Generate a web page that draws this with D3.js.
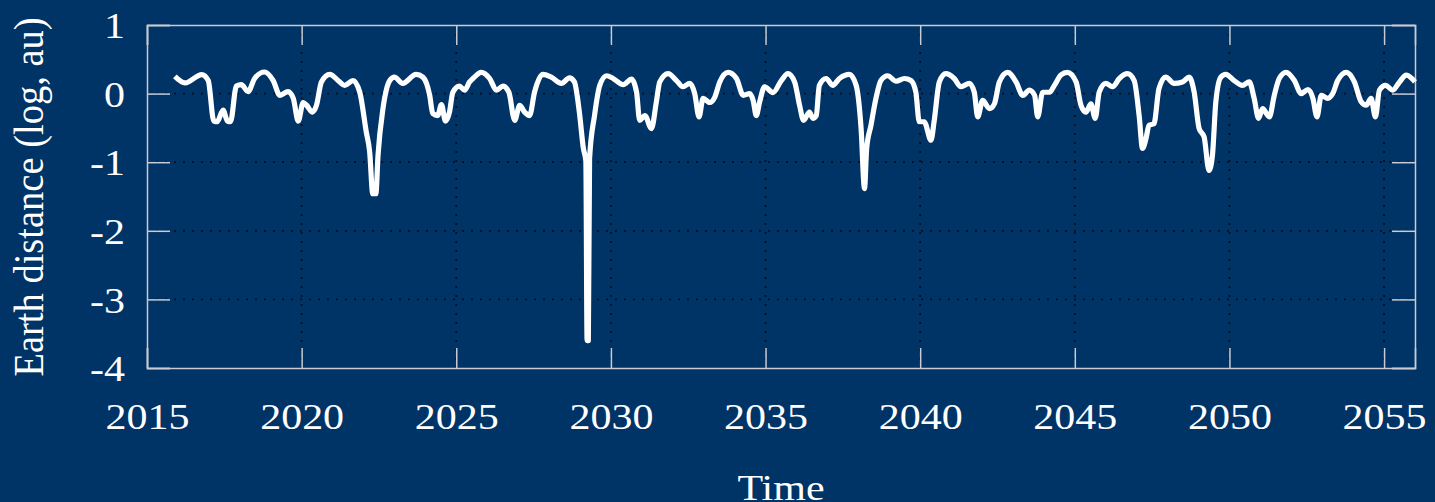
<!DOCTYPE html>
<html><head><meta charset="utf-8">
<script src="https://cdn.jsdelivr.net/npm/d3@7"></script>
<style>html,body{margin:0;padding:0;background:#003366;overflow:hidden}</style>
</head><body>
<svg id="c" width="1435" height="502"></svg>
<script>
const years = [2015.9,2016.23,2016.77,2016.98,2017.16,2017.27,2017.46,2017.6,2017.7,2017.89,2018.05,2018.27,2018.48,2018.8,2019.08,2019.3,2019.56,2019.73,2019.89,2020.05,2020.16,2020.35,2020.48,2020.64,2020.91,2021.23,2021.39,2021.66,2021.88,2022.09,2022.2,2022.3,2022.4,2022.47,2022.63,2022.85,2023.0,2023.27,2023.7,2023.92,2024.14,2024.24,2024.4,2024.52,2024.65,2024.78,2024.89,2025.1,2025.27,2025.43,2025.54,2025.81,2026.08,2026.3,2026.51,2026.7,2026.89,2027.05,2027.21,2027.37,2027.53,2027.8,2028.07,2028.4,2028.66,2028.82,2028.98,2029.11,2029.19,2029.23,2029.27,2029.31,2029.47,2029.64,2029.86,2030.07,2030.4,2030.67,2030.83,2030.93,2031.1,2031.31,2031.47,2031.58,2031.85,2032.12,2032.33,2032.55,2032.71,2032.85,2032.98,2033.2,2033.36,2033.52,2033.79,2034.06,2034.28,2034.49,2034.6,2034.7,2034.81,2034.97,2035.24,2035.51,2035.72,2035.94,2036.1,2036.23,2036.42,2036.53,2036.64,2036.74,2036.96,2037.17,2037.39,2037.71,2037.93,2038.09,2038.2,2038.27,2038.41,2038.57,2038.73,2038.95,2039.22,2039.49,2039.7,2039.86,2039.97,2040.13,2040.35,2040.45,2040.62,2040.83,2041.1,2041.32,2041.59,2041.75,2041.86,2042.02,2042.24,2042.4,2042.56,2042.83,2043.1,2043.32,2043.53,2043.7,2043.8,2043.96,2044.18,2044.34,2044.55,2044.76,2045.04,2045.2,2045.36,2045.52,2045.66,2045.79,2046.0,2046.22,2046.44,2046.7,2046.92,2047.08,2047.19,2047.3,2047.4,2047.56,2047.72,2047.94,2048.21,2048.48,2048.7,2048.86,2049.02,2049.18,2049.34,2049.45,2049.56,2049.72,2049.88,2050.15,2050.42,2050.64,2050.8,2050.94,2051.07,2051.29,2051.45,2051.61,2051.83,2052.1,2052.32,2052.54,2052.7,2052.83,2052.97,2053.18,2053.34,2053.5,2053.78,2054.04,2054.26,2054.42,2054.58,2054.72,2054.85,2055.05,2055.28,2055.5,2055.72,2056.0];
const logDist = [0.25,0.155,0.277,0.19,-0.40,-0.41,-0.24,-0.40,-0.41,0.11,0.13,0.03,0.22,0.315,0.19,-0.025,0.03,-0.07,-0.40,-0.13,-0.17,-0.27,-0.17,0.17,0.28,0.17,0.12,0.19,0.02,-0.56,-0.85,-1.46,-1.46,-0.9,-0.22,0.19,0.24,0.15,0.28,0.24,-0.025,-0.29,-0.32,-0.16,-0.40,-0.27,0.02,0.11,0.05,0.17,0.22,0.31,0.22,0.05,0.11,0.02,-0.39,-0.17,-0.27,-0.32,0.02,0.28,0.24,0.15,0.23,0.17,-0.27,-0.80,-0.98,-3.6,-3.6,-0.95,-0.32,0.12,0.26,0.22,0.13,0.21,0.02,-0.39,-0.32,-0.51,-0.12,0.17,0.29,0.19,0.10,0.15,0.0,-0.34,-0.07,-0.13,-0.05,0.17,0.31,0.22,-0.025,0.0,-0.1,-0.32,-0.12,0.10,0.015,0.19,0.29,0.17,-0.17,-0.39,-0.27,-0.36,-0.32,0.12,0.22,0.12,0.22,0.28,0.12,-0.51,-1.385,-0.80,-0.46,-0.07,0.19,0.26,0.18,0.22,0.19,0.02,-0.41,-0.41,-0.68,-0.41,0.17,0.29,0.22,0.10,0.15,0.02,-0.34,-0.1,-0.22,-0.15,0.17,0.31,0.17,-0.025,0.05,-0.025,-0.34,0.02,0.02,0.12,0.27,0.31,0.17,-0.17,-0.27,-0.15,-0.36,0.02,0.15,0.10,0.22,0.29,0.19,-0.32,-0.80,-0.66,-0.46,-0.44,0.07,0.24,0.15,0.17,0.24,0.02,-0.51,-0.63,-1.12,-0.9,-0.12,0.24,0.28,0.19,0.12,0.17,-0.07,-0.36,-0.22,-0.34,-0.025,0.22,0.31,0.19,0.0,0.06,-0.07,-0.34,-0.025,-0.07,0.0,0.19,0.31,0.17,-0.12,-0.17,-0.07,-0.34,0.05,0.12,0.05,0.17,0.27,0.17];
const xTicks = [2015,2020,2025,2030,2035,2040,2045,2050,2055];
const yTicks = [1,0,-1,-2,-3,-4];
const xLabel = "Time";
const yLabel = "Earth distance (log, au)";

const L = 147, R = 1415, T = 25, B = 368;
const SX = 1.2; // horizontal stretch of the reference's lettering
const svg = d3.select("#c");
svg.append("rect").attr("width",1435).attr("height",502).attr("fill","#003366");
const x = d3.scaleLinear().domain([2015,2056]).range([L,R]);
const y = d3.scaleLinear().domain([-4,1]).range([B,T]);
const frameCol = "#c9ccd2";

// grid
const g = svg.append("g");
g.selectAll("line.gx").data(xTicks.filter(d=>d>2015)).join("line")
  .attr("x1",d=>x(d)).attr("x2",d=>x(d)).attr("y1",T).attr("y2",B)
  .attr("stroke","#0a0f1a").attr("stroke-width",1.8).attr("stroke-dasharray","2,7");
g.selectAll("line.gy").data(yTicks.filter(d=>d<1&&d>-4)).join("line")
  .attr("x1",L).attr("x2",R).attr("y1",d=>y(d)).attr("y2",d=>y(d))
  .attr("stroke","#0a0f1a").attr("stroke-width",1.8).attr("stroke-dasharray","2,7");

// axes with inward ticks
const fnt = "'Liberation Serif','Times New Roman',serif";
const axB = svg.append("g").attr("transform",`translate(0,${B})`)
  .call(d3.axisBottom(x).tickValues(xTicks).tickSize(-20).tickPadding(38).tickFormat(d3.format("d")));
const axT = svg.append("g").attr("transform",`translate(0,${T})`)
  .call(d3.axisTop(x).tickValues(xTicks).tickSize(-20).tickFormat(""));
const axL = svg.append("g").attr("transform",`translate(${L},0)`)
  .call(d3.axisLeft(y).tickValues(yTicks).tickSize(-23).tickPadding(44).tickFormat(d=>d<0?"-"+Math.abs(d):String(d)));
const axR = svg.append("g").attr("transform",`translate(${R},0)`)
  .call(d3.axisRight(y).tickValues(yTicks).tickSize(-23).tickFormat(""));
[axB,axT,axL,axR].forEach(a=>{
  a.selectAll(".domain").attr("stroke",frameCol).attr("stroke-width",1.5);
  a.selectAll(".tick line").attr("stroke",frameCol).attr("stroke-width",1.5);
  a.selectAll("text").attr("fill","#ffffff").style("font-family",fnt).style("font-size","35px");
});
axB.selectAll("text").attr("dy",null).attr("y",null).attr("x",null)
  .attr("transform",`translate(0,61) scale(${SX},1)`);
axL.selectAll("text").attr("x",null).attr("dy","0.36em")
  .attr("transform",`translate(-22,0) scale(${SX},1)`);

// line
const line = d3.line().x((d,i)=>x(years[i])).y(d=>y(d)).curve(d3.curveMonotoneX);
svg.append("path").datum(logDist).attr("d",line)
  .attr("fill","none").attr("stroke","#ffffff").attr("stroke-width",5.2)
  .attr("stroke-linejoin","round").attr("stroke-linecap","butt");

// labels
svg.append("text").attr("text-anchor","middle")
  .attr("transform",`translate(781,500) scale(${SX},1)`)
  .attr("fill","#fff").style("font-family",fnt).style("font-size","35px").text(xLabel);
svg.append("text").attr("transform","translate(43,197) scale(1.1,1) rotate(-90)").attr("text-anchor","middle")
  .attr("fill","#fff").style("font-family",fnt).style("font-size","38.5px").text(yLabel);
</script>
</body></html>
